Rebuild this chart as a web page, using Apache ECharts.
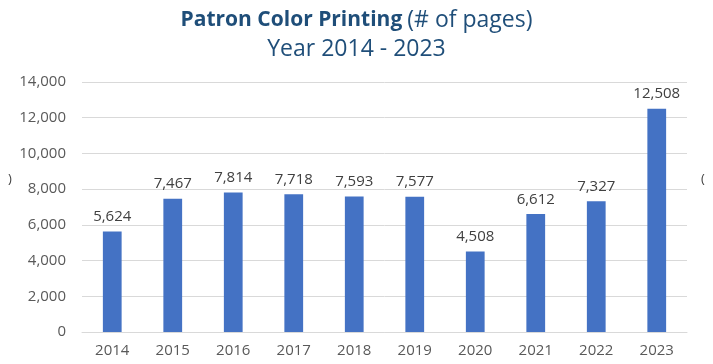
<!DOCTYPE html>
<html>
<head>
<meta charset="utf-8">
<script src="https://cdn.jsdelivr.net/npm/echarts@6/dist/echarts.min.js"></script>
<style>
  html, body { margin: 0; padding: 0; background: #fff; }
  #chart { width: 713px; height: 364px; }
</style>
</head>
<body>
<div id="chart"></div>
<script>
// Yearly page counts for patron colour printing
const years = ['2014', '2015', '2016', '2017', '2018', '2019', '2020', '2021', '2022', '2023'];
const pages = [5624, 7467, 7814, 7718, 7593, 7577, 4508, 6612, 7327, 12508];
const yTicks = [0, 2000, 4000, 6000, 8000, 10000, 12000, 14000];

const fmt = v => Number(v).toLocaleString('en-US');
const font = '"Open Sans", "Liberation Sans", sans-serif';

const chart = echarts.init(document.getElementById('chart'));
chart.setOption({
  animation: false,
  title: {
    text: '{b|Patron Color Printing} {n|(# of pages)}\n{n|Year 2014 - 2023}',
    left: 'center',
    top: 1,
    textStyle: {
      rich: {
        b: { fontFamily: font, fontSize: 21, fontWeight: 'bold', color: '#1F4E79', lineHeight: 29 },
        n: { fontFamily: font, fontSize: 23, fontWeight: 'normal', color: '#1F4E79', lineHeight: 29 }
      }
    }
  },
  grid: { left: 82, right: 26, top: 82, bottom: 32 },
  xAxis: {
    type: 'category',
    data: years,
    axisTick: { show: false },
    axisLine: { lineStyle: { color: '#D9D9D9' } },
    axisLabel: { color: '#595959', fontFamily: font, fontSize: 15, margin: 11 }
  },
  yAxis: {
    type: 'value',
    min: yTicks[0],
    max: yTicks[yTicks.length - 1],
    interval: yTicks[1] - yTicks[0],
    axisLine: { show: false },
    axisTick: { show: false },
    splitLine: { lineStyle: { color: '#D9D9D9' } },
    axisLabel: { color: '#595959', fontFamily: font, fontSize: 15, margin: 16, formatter: fmt }
  },
  series: [{
    type: 'bar',
    data: pages,
    barWidth: '31%',
    itemStyle: { color: '#4472C4' },
    label: {
      show: true,
      position: 'top',
      distance: 7,
      color: '#404040',
      fontFamily: font,
      fontSize: 15,
      formatter: p => fmt(p.value)
    }
  }],
  graphic: [
    { type: 'text', left: 8, top: 173, style: { text: ')', fill: '#404040', font: '13px ' + font } },
    { type: 'text', left: 701, top: 173, style: { text: '(', fill: '#404040', font: '13px ' + font } }
  ]
});
</script>
</body>
</html>
